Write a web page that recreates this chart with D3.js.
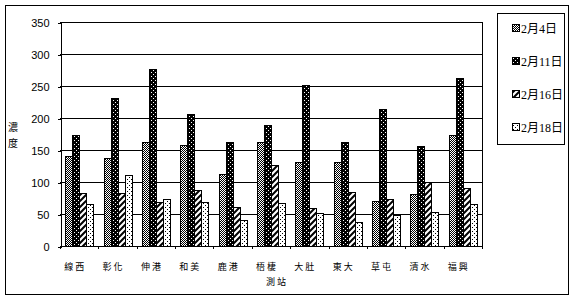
<!DOCTYPE html>
<html>
<head>
<meta charset="utf-8">
<script src="https://cdn.jsdelivr.net/npm/d3@7"></script>
<style>
  body { margin: 0; background: #fff; }
  svg { display: block; }
</style>
</head>
<body>
<div id="chart"></div>
<script>
// Data
const stations = ["線西", "彰化", "伸港", "和美", "鹿港", "梧棲", "大肚", "東大", "草屯", "清水", "福興"];
const seriesNames = ["2月4日", "2月11日", "2月16日", "2月18日"];
const feb4  = [141, 137, 163, 158, 112, 163, 131, 131, 70, 82, 173];
const feb11 = [173, 231, 276, 206, 162, 189, 251, 162, 214, 156, 262];
const feb16 = [83, 83, 69, 88, 61, 127, 59, 84, 73, 100, 91];
const feb18 = [65, 111, 73, 69, 41, 67, 51, 38, 48, 53, 65];
const yTicks = [0, 50, 100, 150, 200, 250, 300, 350];

const allSeries = [feb4, feb11, feb16, feb18];

const width = 576;
const height = 299;
const plot = { left: 60, right: 482, top: 22, bottom: 246 };

const svg = d3.select("#chart")
    .append("svg")
    .attr("width", width)
    .attr("height", height)
    .attr("shape-rendering", "crispEdges");

// Fill patterns for the four series
const defs = svg.append("defs");

const p0 = defs.append("pattern").attr("id", "pat0")
    .attr("width", 2).attr("height", 2).attr("patternUnits", "userSpaceOnUse");
p0.append("rect").attr("width", 2).attr("height", 2).attr("fill", "#fff");
p0.append("rect").attr("x", 0).attr("y", 0).attr("width", 1).attr("height", 1).attr("fill", "#000");
p0.append("rect").attr("x", 1).attr("y", 1).attr("width", 1).attr("height", 1).attr("fill", "#000");

const p1 = defs.append("pattern").attr("id", "pat1")
    .attr("width", 4).attr("height", 4).attr("patternUnits", "userSpaceOnUse");
p1.append("rect").attr("width", 4).attr("height", 4).attr("fill", "#000");
p1.append("rect").attr("x", 1).attr("y", 0).attr("width", 1).attr("height", 1).attr("fill", "#fff");
p1.append("rect").attr("x", 3).attr("y", 2).attr("width", 1).attr("height", 1).attr("fill", "#fff");

const p2 = defs.append("pattern").attr("id", "pat2")
    .attr("width", 6).attr("height", 6).attr("patternUnits", "userSpaceOnUse");
p2.append("rect").attr("width", 6).attr("height", 6).attr("fill", "#fff");
p2.append("path")
    .attr("d", "M-1,7 L7,-1 M-4,4 L4,-4 M2,10 L10,2")
    .attr("stroke", "#000")
    .attr("stroke-width", 2)
    .attr("shape-rendering", "auto");

const p3 = defs.append("pattern").attr("id", "pat3")
    .attr("width", 4).attr("height", 4).attr("patternUnits", "userSpaceOnUse");
p3.append("rect").attr("width", 4).attr("height", 4).attr("fill", "#fff");
p3.append("rect").attr("x", 1).attr("y", 1).attr("width", 1).attr("height", 1).attr("fill", "#000");
p3.append("rect").attr("x", 3).attr("y", 3).attr("width", 1).attr("height", 1).attr("fill", "#000");

const fills = ["url(#pat0)", "url(#pat1)", "url(#pat2)", "url(#pat3)"];

// Outer frame
svg.append("rect")
    .attr("x", 5.5).attr("y", 5.5)
    .attr("width", 563).attr("height", 288.5)
    .attr("fill", "none").attr("stroke", "#000");

// Scales
const x0 = d3.scaleBand()
    .domain(stations)
    .range([plot.left, plot.right])
    .paddingInner(0.27)
    .paddingOuter(0.135);

const x1 = d3.scaleBand()
    .domain(d3.range(seriesNames.length))
    .range([0, x0.bandwidth()]);

const y = d3.scaleLinear()
    .domain([0, 350])
    .range([plot.bottom, plot.top]);

// Gridlines
svg.append("g")
    .selectAll("line")
    .data(yTicks.slice(1))
    .enter().append("line")
    .attr("x1", plot.left).attr("x2", plot.right)
    .attr("y1", d => Math.round(y(d)) + 0.5)
    .attr("y2", d => Math.round(y(d)) + 0.5)
    .attr("stroke", "#000");

// Right border of plot
svg.append("line")
    .attr("x1", plot.right + 0.5).attr("x2", plot.right + 0.5)
    .attr("y1", plot.top).attr("y2", plot.bottom)
    .attr("stroke", "#000");

// Bars
const groups = svg.append("g")
    .selectAll("g")
    .data(stations)
    .enter().append("g")
    .attr("transform", d => `translate(${Math.round(x0(d))},0)`);

groups.selectAll("rect")
    .data((d, i) => allSeries.map((s, k) => ({ k, v: s[i] })))
    .enter().append("rect")
    .attr("x", d => Math.round(x1(d.k)) + 0.5)
    .attr("y", d => Math.round(y(d.v)) + 0.5)
    .attr("width", Math.round(x1.bandwidth()))
    .attr("height", d => Math.round(y(0)) - Math.round(y(d.v)))
    .attr("fill", d => fills[d.k])
    .attr("stroke", "#000");

// Y axis
const yAxis = svg.append("g")
    .attr("transform", `translate(${plot.left + 0.5},0.5)`)
    .call(d3.axisLeft(y).tickValues(yTicks).tickSize(3).tickPadding(8));
yAxis.select(".domain").attr("stroke", "#000");
yAxis.selectAll("text")
    .style("font-family", "'Liberation Sans', Arial, sans-serif")
    .style("font-size", "11px")
    .attr("fill", "#000");

// X axis (tick marks at category boundaries)
svg.append("line")
    .attr("x1", plot.left).attr("x2", plot.right + 1)
    .attr("y1", plot.bottom + 0.5).attr("y2", plot.bottom + 0.5)
    .attr("stroke", "#000");

svg.append("g")
    .selectAll("line")
    .data(d3.range(stations.length + 1))
    .enter().append("line")
    .attr("x1", i => Math.round(plot.left + x0.step() * i) + 0.5)
    .attr("x2", i => Math.round(plot.left + x0.step() * i) + 0.5)
    .attr("y1", plot.bottom)
    .attr("y2", plot.bottom + 3)
    .attr("stroke", "#000");

svg.append("g")
    .selectAll("text")
    .data(stations)
    .enter().append("text")
    .attr("x", d => x0(d) + x0.bandwidth() / 2 - 4)
    .attr("y", 270)
    .attr("text-anchor", "middle")
    .style("font-family", "'Noto Sans CJK TC', sans-serif")
    .style("font-size", "9px")
    .style("letter-spacing", "2px")
    .text(d => d);

// Axis titles
svg.append("text")
    .attr("x", 277).attr("y", 285)
    .attr("text-anchor", "middle")
    .style("font-family", "'Noto Sans CJK TC', sans-serif")
    .style("font-size", "9px")
    .style("letter-spacing", "2px")
    .text("測站");

svg.append("g")
    .selectAll("text")
    .data(["濃", "度"])
    .enter().append("text")
    .attr("x", 13)
    .attr("y", (d, i) => 131 + i * 16)
    .attr("text-anchor", "middle")
    .style("font-family", "'Noto Sans CJK TC', sans-serif")
    .style("font-size", "10px")
    .text(d => d);

// Legend
const legendBox = svg.append("g");
legendBox.append("rect")
    .attr("x", 497.5).attr("y", 13.5)
    .attr("width", 67).attr("height", 131)
    .attr("fill", "#fff").attr("stroke", "#000");

const legend = legendBox.selectAll("g.legend")
    .data(seriesNames)
    .enter().append("g")
    .attr("class", "legend")
    .attr("transform", (d, i) => `translate(0, ${29 + i * 33})`);

legend.append("rect")
    .attr("x", 512.5).attr("y", -4.5)
    .attr("width", 7).attr("height", 7)
    .attr("fill", (d, i) => fills[i])
    .attr("stroke", "#000");

legend.append("text")
    .attr("x", 521)
    .attr("y", 4)
    .style("font-family", "'Liberation Serif', 'Noto Sans CJK TC', serif")
    .style("font-size", "12px")
    .text(d => d);
</script>
</body>
</html>
